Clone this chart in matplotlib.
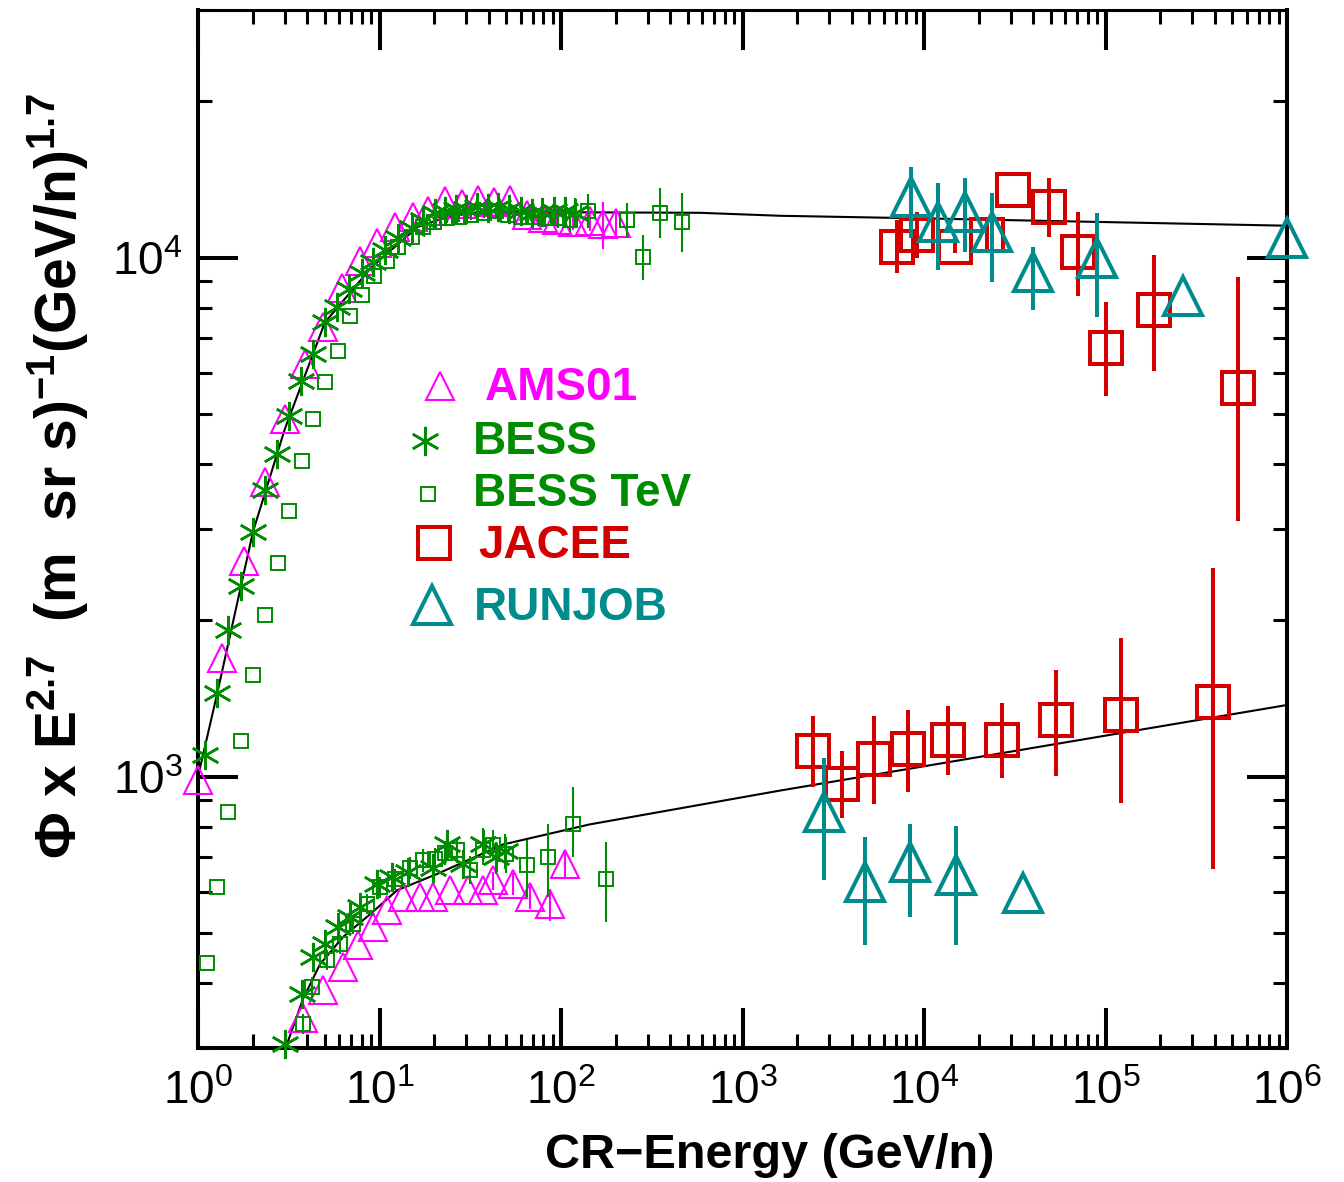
import numpy as np
import matplotlib
matplotlib.use("Agg")
import matplotlib.pyplot as plt

plt.rcParams["font.family"] = ["Liberation Sans", "DejaVu Sans"]
plt.rcParams["mathtext.fontset"] = "custom"
plt.rcParams["mathtext.rm"] = "Liberation Sans"
plt.rcParams["mathtext.bf"] = "Liberation Sans:bold"
plt.rcParams["mathtext.it"] = "Liberation Sans:italic"

# --- proton-like (upper) band ---
ams_p_E = [1.0, 1.36, 1.79, 2.34, 3.01, 3.89, 4.88, 6.2, 7.8, 9.7, 12.2, 15.3, 18.5,
           23, 28.5, 35, 43, 52.5, 64.6, 79.7, 95, 117, 144, 170, 200]
ams_p_F = [985, 1690, 2600, 3700, 4885, 6240, 7340, 8750, 9830, 10690, 11470, 11990, 12300,
           12860, 12700, 12900, 12800, 12900, 12100, 11900, 11800, 11700, 11750, 11600, 11650]
ams_p_err = [0, 0, 0, 0, 0, 0, 0, 0, 0, 0, 0, 0, 0,
             0, 0, 0, 0, 200, 250, 300, 350, 400, 500, 1200, 600]

bess_p_E = [1.09, 1.27, 1.47, 1.72, 2.01, 2.34, 2.72, 3.17, 3.69, 4.30, 5.01, 5.84, 6.79,
            8.0, 9.2, 10.7, 12.6, 15.1, 17.4, 20.2, 23, 26.5, 30, 34.5, 39.5, 45, 52,
            60, 69, 79, 91, 105, 120]
bess_p_F = [1102, 1449, 1914, 2327, 2965, 3560, 4190, 4950, 5780, 6520, 7500, 8050, 8690,
            9360, 9820, 10360, 10920, 11420, 11830, 12200, 12300, 12400, 12400, 12500, 12450,
            12500, 12400, 12300, 12200, 12250, 12300, 12300, 12200]
bess_p_err = [0] * 26 + [400, 450, 500, 550, 600, 700, 800]

tev_p_E = [1.12, 1.27, 1.46, 1.72, 2.01, 2.34, 2.76, 3.17, 3.74, 4.30, 5.0, 5.9, 6.88,
           8.0, 9.3, 11, 12.6, 15.1, 17.4, 20, 23.5, 27.5, 32, 37.5, 44, 51, 60, 70, 82,
           96, 112, 141, 230, 283, 351, 464]
tev_p_F = [437, 612, 853, 1172, 1570, 2050, 2575, 3250, 4050, 4885, 5760, 6600, 7710,
           8490, 9200, 9830, 10500, 10970, 11470, 11700, 11900, 12000, 12100, 12200, 12300,
           12100, 12000, 12000, 11900, 11900, 11800, 12300, 11830, 10040, 12200, 11720]
tev_p_lo = [0] * 19 + [250, 250, 300, 300, 300, 350, 350, 400, 400, 450, 500, 600,
                       900, 910, 970, 1280, 1450]
tev_p_hi = [0] * 19 + [250, 250, 300, 300, 300, 350, 350, 400, 400, 450, 500, 600,
                       950, 920, 1030, 1430, 1610]

jacee_p_E = [7100, 9150, 14800, 22200, 30900, 48800, 70600, 100700, 185000, 537000]
jacee_p_F = [10500, 11070, 10500, 11070, 13510, 12530, 10270, 6710, 7910, 5610]
jacee_p_top = [11830, 12260, 10920, 11830, 13510, 14240, 12260, 8200, 10130, 9195]
jacee_p_bot = [9360, 10000, 10220, 10360, 13510, 10970, 8430, 5410, 6040, 3113]

runjob_p_E = [8480, 11900, 16800, 23700, 39800, 89800, 267000, 1000000]
runjob_p_F = [13100, 11730, 12250, 11220, 9400, 10000, 8450, 10920]
runjob_p_top = [14950, 13930, 14240, 13330, 10500, 12200, 8450, 10920]
runjob_p_bot = [10920, 9480, 10270, 8990, 7940, 7670, 8450, 10920]

# --- helium-like (lower) band ---
ams_he_E = [3.79, 4.89, 6.3, 7.6, 9.2, 11, 13.5, 16.7, 19.6, 24.4, 30.8, 37.2, 42,
            54.4, 67.5, 87, 105]
ams_he_F = [342, 388, 430, 474, 513, 553, 586, 586, 586, 604, 604, 604, 631,
            621, 586, 568, 678]
ams_he_err = [0] * 12 + [25, 30, 30, 40, 40]

bess_he_E = [3.01, 3.74, 4.3, 5.0, 5.9, 6.9, 7.8, 9.7, 11.7, 14.4, 19.7, 23.5, 28.9,
             37.2, 44, 49]
bess_he_F = [306, 382, 450, 476, 513, 536, 561, 621, 640, 654, 668, 740, 678,
             740, 699, 719]
bess_he_err = [0, 0, 0, 0, 0, 0, 0, 20, 20, 25, 30, 50, 40, 55, 50, 55]

tev_he_E = [3.79, 4.25, 5.13, 6.06, 7.15, 8.5, 10.1, 12.2, 14.7, 17.4, 20.2, 23, 26.7,
            31.6, 37.2, 42, 50, 65, 85, 117, 177]
tev_he_F = [334, 393, 444, 476, 520, 568, 612, 634, 668, 690, 694, 714, 721,
            662, 721, 738, 708, 675, 699, 809, 634]
tev_he_lo = [15, 18, 20, 20, 22, 25, 28, 30, 32, 35, 35, 38, 40, 40, 45, 50, 55,
             89, 113, 110, 110]
tev_he_hi = [15, 18, 20, 20, 22, 25, 28, 30, 32, 35, 35, 38, 40, 40, 45, 50, 55,
             79, 110, 144, 113]

jacee_he_E = [2450, 3530, 5300, 8170, 13600, 26900, 53400, 121800, 391000]
jacee_he_F = [1122, 966, 1079, 1128, 1178, 1178, 1286, 1315, 1393]
jacee_he_top = [1309, 1122, 1309, 1345, 1369, 1387, 1605, 1849, 2519]
jacee_he_bot = [953, 834, 884, 932, 1009, 996, 1005, 891, 663]

runjob_he_E = [2810, 4730, 8370, 15000, 35100]
runjob_he_F = [853, 627, 684, 645, 598]
runjob_he_top = [1088, 764, 809, 805, 598]
runjob_he_bot = [631, 474, 536, 474, 598]

# fitted spectra
fit_p_E = [1.0, 1.27, 2.01, 3.01, 5.0, 9.1, 16.3, 24, 35.7, 583, 1610, 1e4, 1e6]
fit_p_F = [1000, 1436, 2966, 4677, 7499, 9610, 11470, 12000, 12250, 12200, 12040, 11900, 11520]
fit_he_E = [3.09, 3.79, 4.7, 6.3, 8.87, 12.5, 20.7, 47.9, 144, 1610, 1e6]
fit_he_F = [305, 373, 435, 491, 543, 604, 649, 740, 809, 940, 1374]

MAGENTA = "#ff00ff"
GREEN = "#008c00"
RED = "#d40000"
TEAL = "#008c8c"

fig = plt.figure(figsize=(13.44, 11.82), dpi=100)
ax = fig.add_axes([198 / 1344, 134 / 1182, 1089 / 1344, 1038 / 1182])
ax.set_xscale("log")
ax.set_yscale("log")
ax.set_xlim(1, 1e6)
ax.set_ylim(300, 30000)

ax.plot(fit_p_E, fit_p_F, color="black", lw=1.5, zorder=3)
ax.plot(fit_he_E, fit_he_F, color="black", lw=1.5, zorder=3)


def draw(E, F, lo, hi, marker, color, ms, mew, elw, z):
    c = ax.errorbar(E, F, yerr=[lo, hi], marker=marker, linestyle="none", ms=ms, mew=mew,
                    mfc="none", mec=color, ecolor=color, elinewidth=elw, capsize=0, zorder=z)
    for art in c.get_children():
        art.set_clip_on(False)


def bars(F, top, bot):
    F = np.array(F)
    return F - np.array(bot), np.array(top) - F


asterisk = (6, 2, 0)

draw(ams_p_E, ams_p_F, ams_p_err, ams_p_err, "^", MAGENTA, 20, 1.5, 1.5, 4)
draw(ams_he_E, ams_he_F, ams_he_err, ams_he_err, "^", MAGENTA, 20, 1.5, 1.5, 4)
draw(bess_p_E, bess_p_F, bess_p_err, bess_p_err, asterisk, GREEN, 21, 1.8, 1.5, 5)
draw(bess_he_E, bess_he_F, bess_he_err, bess_he_err, asterisk, GREEN, 21, 1.8, 1.5, 5)
draw(tev_p_E, tev_p_F, tev_p_lo, tev_p_hi, "s", GREEN, 10.5, 1.4, 1.5, 5)
draw(tev_he_E, tev_he_F, tev_he_lo, tev_he_hi, "s", GREEN, 10.5, 1.4, 1.5, 5)

lo, hi = bars(jacee_p_F, jacee_p_top, jacee_p_bot)
draw(jacee_p_E, jacee_p_F, lo, hi, "s", RED, 23, 2.9, 2.9, 6)
lo, hi = bars(jacee_he_F, jacee_he_top, jacee_he_bot)
draw(jacee_he_E, jacee_he_F, lo, hi, "s", RED, 23, 2.9, 2.9, 6)
lo, hi = bars(runjob_p_F, runjob_p_top, runjob_p_bot)
draw(runjob_p_E, runjob_p_F, lo, hi, "^", TEAL, 28, 2.9, 2.9, 7)
lo, hi = bars(runjob_he_F, runjob_he_top, runjob_he_bot)
draw(runjob_he_E, runjob_he_F, lo, hi, "^", TEAL, 28, 2.9, 2.9, 7)

# legend drawn by hand inside the axes
legend = [
    ("AMS01", MAGENTA, "^", 20, 1.5, 0.2222, 0.6378, 0.2635, 0.6358),
    ("BESS", GREEN, asterisk, 21, 1.8, 0.2084, 0.5848, 0.2525, 0.5838),
    ("BESS TeV", GREEN, "s", 10.5, 1.4, 0.2112, 0.5337, 0.2525, 0.5337),
    ("JACEE", RED, "s", 23, 2.9, 0.2167, 0.4865, 0.2571, 0.4836),
    ("RUNJOB", TEAL, "^", 28, 2.9, 0.2149, 0.4268, 0.2534, 0.4239),
]
for name, col, mk, ms, mew, mx, my, tx, ty in legend:
    ax.plot([mx], [my], marker=mk, ms=ms, mew=mew, mfc="none", mec=col,
            transform=ax.transAxes, linestyle="none")
    ax.text(tx, ty, name, color=col, fontsize=33, fontweight="bold",
            transform=ax.transAxes, ha="left", va="center")

for side in ax.spines.values():
    side.set_linewidth(2.9)
ax.spines["top"].set_linewidth(2.2)
ax.tick_params(which="both", direction="in", top=True, right=True, labelsize=33)
ax.tick_params(which="major", length=29, width=2.9)
ax.tick_params(which="minor", length=10, width=2.2)
ax.tick_params(axis="x", which="major", pad=16)
ax.tick_params(axis="y", which="major", pad=11)

fig.text(770 / 1344, 1 - 1155 / 1182, "CR\u2212Energy (GeV/n)", fontsize=35,
         fontweight="bold", ha="center", va="center")
fig.text(0.043, 0.597,
         r"$\mathbf{\Phi\ x\ E^{2.7}\ \ (m\ \ sr\ s)^{-1}(GeV/n)^{1.7}}$",
         rotation=90, ha="center", va="center", fontsize=41)

fig.savefig("out.png", dpi=100)
